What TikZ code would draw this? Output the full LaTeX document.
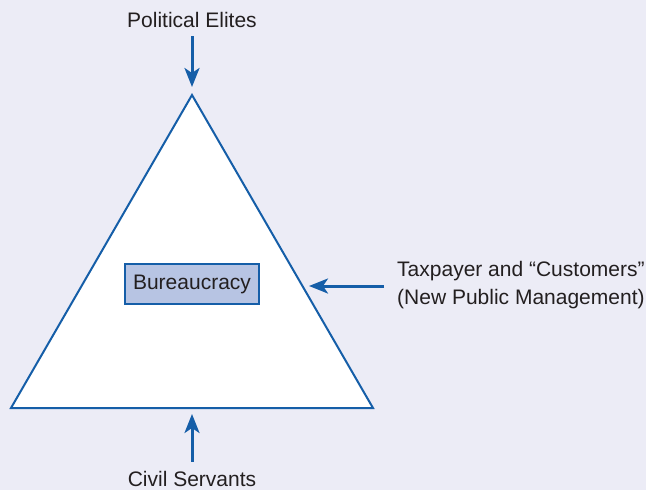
\documentclass[tikz,border=0pt]{standalone}
\usepackage{fontspec}
\setmainfont{Liberation Sans}
\usetikzlibrary{arrows.meta}
\definecolor{bg}{RGB}{236,236,246}
\definecolor{blu}{RGB}{21,94,168}
\definecolor{boxfill}{RGB}{183,196,227}
\definecolor{txt}{RGB}{35,31,32}
\begin{document}
\begin{tikzpicture}[x=1pt,y=-1pt,
  lbl/.style={inner sep=0pt,text=txt,font=\fontsize{21}{28}\selectfont},
  arr/.style={draw=blu,line width=3pt,-{Stealth[length=19pt,width=15pt,inset=5pt]}},
  tri/.style={draw=blu,line width=2pt,fill=white,line join=miter},
  bbox/.style={draw=blu,fill=boxfill,line width=1.2pt,minimum width=134pt,minimum height=40pt,inner sep=0pt,text=txt,font=\fontsize{21}{28}\selectfont}]
\fill[bg] (0,0) rectangle (646,490);
\useasboundingbox (0,0) rectangle (646,490);
% triangle
\coordinate (apex) at (192,95);
\coordinate (bl) at (11,408);
\coordinate (br) at (373,408);
\draw[tri] (apex) -- (bl) -- (br) -- cycle;
% box
\node[bbox] (bur) at (192,284) {Bureaucracy};
% labels
\node[lbl,anchor=base] (pe) at (192,27) {Political Elites};
\node[lbl,anchor=west,align=left] (tax) at (397,285) {Taxpayer and “Customers”\\(New Public Management)};
\node[lbl,anchor=base] (cs) at (192,486) {Civil Servants};
% arrow tips
\coordinate (tipT) at (192,87);
\coordinate (tipR) at (309,286);
\coordinate (tipB) at (192,414);
\draw[arr,shorten <=9pt] (pe.south) -- (tipT);
\draw[arr,shorten <=13pt] (tipR -| tax.west) -- (tipR);
\draw[arr,shorten <=9pt] (cs.north) -- (tipB);
\end{tikzpicture}
\end{document}
